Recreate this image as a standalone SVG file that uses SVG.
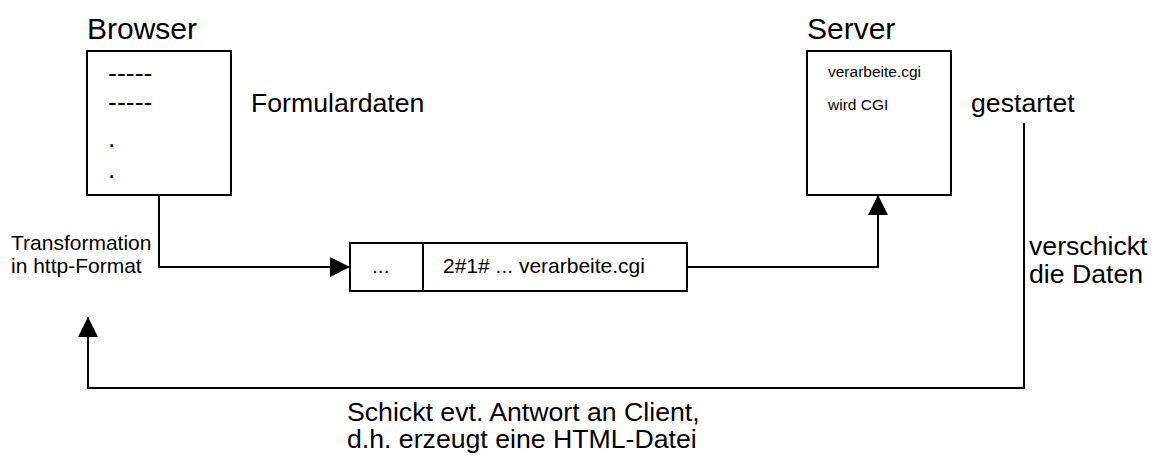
<svg xmlns="http://www.w3.org/2000/svg" width="1166" height="456" viewBox="0 0 1166 456">
<defs>
<style>
text{font-family:"Liberation Sans",Arial,sans-serif;fill:#000}
.box{fill:#fff;stroke:#000;stroke-width:2}
.ln{fill:none;stroke:#000;stroke-width:2}
.t30{font-size:30px}
.t26{font-size:26.67px}
.t21{font-size:21px}
.t15{font-size:15.5px}
</style>
<marker id="arr" markerUnits="userSpaceOnUse" markerWidth="20" markerHeight="20" viewBox="0 0 20 20" refX="20" refY="10" orient="auto">
<path d="M0,0 L20,10 L0,20 Z" fill="#000"/>
</marker>
</defs>
<g id="browser">
<text class="t30" x="87" y="39">Browser</text>
<rect class="box" x="87" y="51" width="144" height="144"/>
<text class="t26" x="108" y="82">-----</text>
<text class="t26" x="108" y="111">-----</text>
<text class="t26" x="108" y="147">.</text>
<text class="t26" x="108" y="178">.</text>
</g>
<g id="formulardaten"><text class="t26" x="251" y="112">Formulardaten</text></g>
<g id="server">
<text class="t30" x="807" y="39">Server</text>
<rect class="box" x="807" y="51" width="144" height="144"/>
<text class="t15" x="828" y="77">verarbeite.cgi</text>
<text class="t15" x="828" y="110">wird CGI</text>
</g>
<g id="gestartet"><text class="t26" x="971" y="112">gestartet</text></g>
<g id="packet">
<rect class="box" x="350" y="243" width="337" height="48"/>
<line class="ln" x1="423" y1="243" x2="423" y2="291"/>
<text class="t21" x="372" y="273">...</text>
<text class="t21" x="443" y="273">2#1# ... verarbeite.cgi</text>
</g>
<g id="labels">
<text class="t21" x="11" y="250">Transformation</text>
<text class="t21" x="11" y="273">in http-Format</text>
<text class="t26" x="1029" y="255">verschickt</text>
<text class="t26" x="1029" y="283">die Daten</text>
<text class="t26" x="347" y="421">Schickt evt. Antwort an Client,</text>
<text class="t26" x="347" y="448">d.h. erzeugt eine HTML-Datei</text>
</g>
<g id="connectors">
<polyline class="ln" points="159,195 159,267 350,267" marker-end="url(#arr)"/>
<polyline class="ln" points="687,267 878,267 878,195" marker-end="url(#arr)"/>
<polyline class="ln" points="1024,123 1024,388 88,388 88,317" marker-end="url(#arr)"/>
</g>
</svg>
